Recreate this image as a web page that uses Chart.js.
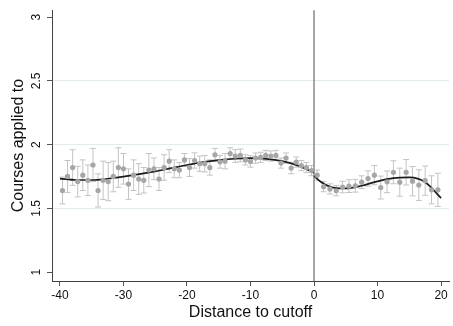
<!DOCTYPE html>
<html>
<head>
<meta charset="utf-8">
<script src="https://cdn.jsdelivr.net/npm/chart.js@4.4.1/dist/chart.umd.min.js"></script>
<style>
  html, body { margin: 0; padding: 0; background: #fff; }
</style>
</head>
<body>
<canvas id="rd" width="453" height="326"></canvas>
<script>
// bin means left of the cutoff (bins of 0.8)
const leftX = [-39.6, -38.8, -38.0, -37.2, -36.4, -35.6, -34.8, -34.0, -33.2, -32.4,
               -31.6, -30.8, -30.0, -29.2, -28.4, -27.6, -26.8, -26.0, -25.2, -24.4,
               -23.6, -22.8, -22.0, -21.2, -20.4, -19.6, -18.8, -18.0, -17.2, -16.4,
               -15.6, -14.8, -14.0, -13.2, -12.4, -11.6, -10.8, -10.0, -9.2, -8.4,
               -7.6, -6.8, -6.0, -5.2, -4.4, -3.6, -2.8, -2.0, -1.2, -0.4];
const leftY = [1.64, 1.75, 1.82, 1.71, 1.76, 1.72, 1.84, 1.64, 1.72, 1.71,
               1.75, 1.82, 1.81, 1.69, 1.76, 1.73, 1.72, 1.80, 1.81, 1.73,
               1.82, 1.87, 1.81, 1.80, 1.88, 1.82, 1.875, 1.85, 1.85, 1.82,
               1.92, 1.865, 1.87, 1.93, 1.91, 1.915, 1.88, 1.868, 1.894, 1.90,
               1.915, 1.91, 1.915, 1.855, 1.894, 1.816, 1.863, 1.835, 1.82, 1.796];
const leftSE = [0.105, 0.125, 0.14, 0.12, 0.12, 0.12, 0.13, 0.13, 0.15, 0.15,
                0.12, 0.155, 0.12, 0.12, 0.12, 0.12, 0.10, 0.13, 0.085, 0.09,
                0.10, 0.09, 0.07, 0.06, 0.05, 0.07, 0.06, 0.06, 0.065, 0.06,
                0.05, 0.05, 0.06, 0.045, 0.05, 0.05, 0.04, 0.045, 0.04, 0.04,
                0.04, 0.04, 0.04, 0.04, 0.04, 0.045, 0.04, 0.04, 0.04, 0.04];

// bin means right of the cutoff (bins of 1)
const rightX = [0.5, 1.5, 2.5, 3.5, 4.5, 5.5, 6.5, 7.5, 8.5, 9.5,
                10.5, 11.5, 12.5, 13.5, 14.5, 15.5, 16.5, 17.5, 18.5, 19.5];
const rightY = [1.76, 1.67, 1.652, 1.638, 1.667, 1.674, 1.677, 1.705, 1.734, 1.76,
                1.663, 1.708, 1.783, 1.705, 1.783, 1.713, 1.682, 1.717, 1.645, 1.645];
const rightSE = [0.04, 0.04, 0.04, 0.04, 0.045, 0.05, 0.05, 0.05, 0.06, 0.075,
                 0.09, 0.085, 0.09, 0.11, 0.10, 0.115, 0.12, 0.115, 0.11, 0.13];

// fitted polynomial
const fitLeftX = [-40, -37.5, -35, -32.5, -30, -27.5, -25, -22.5, -20, -17.5,
                  -15, -12.5, -10, -7.5, -5, -2.5, 0];
const fitLeftY = [1.733, 1.722, 1.722, 1.732, 1.748, 1.768, 1.79, 1.815, 1.84, 1.862,
                  1.878, 1.889, 1.893, 1.888, 1.87, 1.835, 1.78];
const fitRightX = [0, 1, 2, 3.5, 5, 7.5, 10, 12.5, 15, 17.5, 20];
const fitRightY = [1.755, 1.71, 1.68, 1.658, 1.656, 1.677, 1.712, 1.737, 1.742, 1.705, 1.58];

const xTicks = [-40, -30, -20, -10, 0, 10, 20];
const yTicks = [1, 1.5, 2, 2.5, 3];
const yGrid = [1.5, 2, 2.5];
const cutoff = 0;

const pts = (xs, ys) => xs.map((x, i) => ({ x: x, y: ys[i] }));

// error bars behind the points
const errorBars = {
    id: 'errorBars',
    beforeDatasetsDraw(chart) {
        const { ctx, scales: { x, y } } = chart;
        ctx.save();
        ctx.strokeStyle = '#c4c4c4';
        ctx.lineWidth = 1;
        chart.data.datasets.forEach(ds => {
            if (!ds.se) return;
            ds.data.forEach((p, i) => {
                const px = x.getPixelForValue(p.x);
                const top = y.getPixelForValue(p.y + ds.se[i]);
                const bot = y.getPixelForValue(p.y - ds.se[i]);
                ctx.beginPath();
                ctx.moveTo(px, top); ctx.lineTo(px, bot);
                ctx.moveTo(px - 3, top); ctx.lineTo(px + 3, top);
                ctx.moveTo(px - 3, bot); ctx.lineTo(px + 3, bot);
                ctx.stroke();
            });
        });
        // cutoff line
        const cx = x.getPixelForValue(cutoff);
        ctx.strokeStyle = '#8a8a8a';
        ctx.lineWidth = 1.5;
        ctx.beginPath();
        ctx.moveTo(cx, chart.chartArea.top);
        ctx.lineTo(cx, chart.chartArea.bottom);
        ctx.stroke();
        ctx.restore();
    },
    afterDraw(chart) {
        // y tick labels, rotated like Stata draws them
        const { ctx, scales: { y } } = chart;
        ctx.save();
        ctx.fillStyle = '#111';
        ctx.font = '12px "Liberation Sans", Arial, sans-serif';
        ctx.textAlign = 'center';
        ctx.textBaseline = 'middle';
        yTicks.forEach(v => {
            ctx.save();
            ctx.translate(37, y.getPixelForValue(v));
            ctx.rotate(-Math.PI / 2);
            ctx.fillText(String(v), 0, 0);
            ctx.restore();
        });
        ctx.restore();
    }
};

new Chart(document.getElementById('rd'), {
    type: 'scatter',
    data: {
        datasets: [
            { data: pts(leftX, leftY), se: leftSE, backgroundColor: '#a6a6a6', borderWidth: 0, pointRadius: 2.6 },
            { data: pts(rightX, rightY), se: rightSE, backgroundColor: '#a6a6a6', borderWidth: 0, pointRadius: 2.6 },
            { data: pts(fitLeftX, fitLeftY), showLine: true, borderColor: '#1c1c1c', borderWidth: 1.7,
              pointRadius: 0, cubicInterpolationMode: 'monotone' },
            { data: pts(fitRightX, fitRightY), showLine: true, borderColor: '#1c1c1c', borderWidth: 1.7,
              pointRadius: 0, cubicInterpolationMode: 'monotone' }
        ]
    },
    options: {
        responsive: false,
        devicePixelRatio: 1,
        animation: false,
        layout: { padding: { top: 7, right: 1, left: 0, bottom: 0 } },
        plugins: { legend: { display: false }, tooltip: { enabled: false } },
        scales: {
            x: {
                type: 'linear',
                min: -41.25, max: 21.25,
                afterBuildTicks: s => { s.ticks = xTicks.map(v => ({ value: v })); },
                afterFit: s => { s.height = 45; },
                grid: { drawOnChartArea: false, tickLength: 5, tickColor: '#555' },
                border: { color: '#444', width: 1 },
                ticks: { color: '#111', font: { family: '"Liberation Sans", Arial', size: 12 }, padding: 2, maxRotation: 0 },
                title: { display: true, text: 'Distance to cutoff', color: '#111',
                         font: { family: '"Liberation Sans", Arial', size: 16 }, padding: { top: 0, bottom: 4 } }
            },
            y: {
                type: 'linear',
                min: 0.93, max: 3.054,
                afterBuildTicks: s => { s.ticks = yTicks.map(v => ({ value: v })); },
                afterFit: s => { s.width = 52; },
                grid: {
                    color: c => yGrid.includes(c.tick && c.tick.value) ? '#e2ecee' : 'rgba(0,0,0,0)',
                    tickLength: 5, tickColor: '#555'
                },
                border: { color: '#444', width: 1 },
                ticks: { color: 'rgba(0,0,0,0)', font: { size: 12 } },
                title: { display: true, text: 'Courses applied to', color: '#111',
                         font: { family: '"Liberation Sans", Arial', size: 16 }, padding: { top: 9, bottom: 0 } }
            }
        }
    },
    plugins: [errorBars]
});
</script>
</body>
</html>
